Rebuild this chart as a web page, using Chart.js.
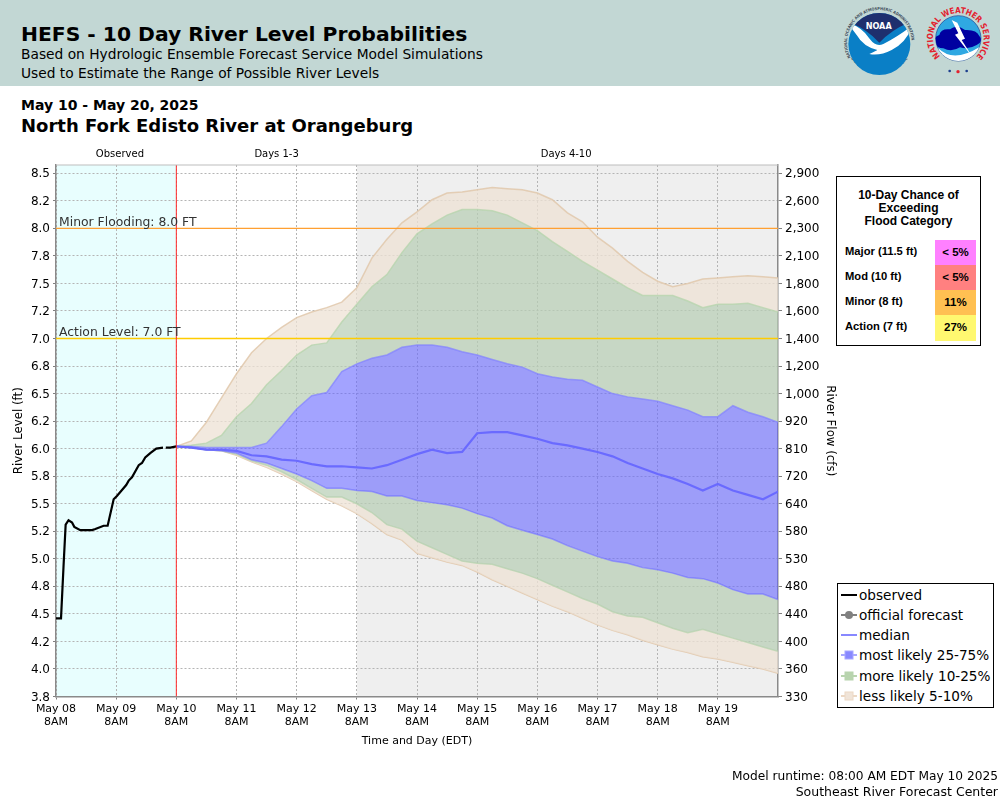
<!DOCTYPE html>
<html>
<head>
<meta charset="utf-8">
<script src="https://cdn.jsdelivr.net/npm/chart.js@4"></script>
<style>
html,body{margin:0;padding:0;background:#fff;width:1000px;height:800px;overflow:hidden;font-family:"DejaVu Sans",sans-serif;color:#000}
#wrap{position:relative;width:1000px;height:800px}
#chart{position:absolute;left:0;top:0}
.t{position:absolute;white-space:nowrap}
#header{position:absolute;left:0;top:0;width:1000px;height:86px;background:#c2d7d4}
#logos{position:absolute;left:820px;top:0}
#flood{position:absolute;left:836px;top:176px;width:143px;height:168px;border:1px solid #000;background:#fff;font-family:"Liberation Sans",Arial,sans-serif;font-weight:bold}
#flood .t{font-size:11.2px}
#flood .h{font-size:12px;left:0;width:143px;text-align:center}
.sw{position:absolute;left:98px;width:41px;text-align:center;line-height:25px;font-size:11.5px}
#legend{position:absolute;left:837px;top:583px;width:155px;height:123px;border:1px solid #000;background:#fff}
.row{position:absolute;left:0;height:20px;width:155px;font-size:13.6px;line-height:20px}
.row span{position:absolute;left:21px;top:0;white-space:nowrap}
.row svg{position:absolute;left:2px;top:2px}
</style>
</head>
<body>
<div id="wrap">
<div id="header"></div>
<div class="t" style="left:21px;top:20px;font-size:20.3px;font-weight:bold;line-height:28px">HEFS - 10 Day River Level Probabilities</div>
<div class="t" style="left:21px;top:45px;font-size:13.77px;line-height:18px">Based on Hydrologic Ensemble Forecast Service Model Simulations</div>
<div class="t" style="left:21px;top:64px;font-size:13.77px;line-height:18px">Used to Estimate the Range of Possible River Levels</div>
<svg id="logos" width="180" height="86" viewBox="0 0 540 258" xmlns="http://www.w3.org/2000/svg">
  <defs>
    <clipPath id="nc"><circle cx="178" cy="132" r="93"/></clipPath>
    <path id="na1" d="M 92 172 A 97 97 0 1 1 264 172" fill="none"/>
    <path id="na2" d="M 92 175 A 108 108 0 0 0 262 178" fill="none"/>
    <path id="wa" d="M 361 169 A 76 76 0 1 1 469 169" fill="none"/>
    <clipPath id="wc"><circle cx="415" cy="115" r="68"/></clipPath>
  </defs>
  <g>
    <text font-family="DejaVu Sans" font-size="12" fill="#44505e" font-weight="bold"><textPath href="#na1" textLength="345" lengthAdjust="spacingAndGlyphs">NATIONAL OCEANIC AND ATMOSPHERIC ADMINISTRATION</textPath></text>
    <text font-family="DejaVu Sans" font-size="12" fill="#44505e" font-weight="bold"><textPath href="#na2" textLength="205" lengthAdjust="spacingAndGlyphs">U.S. DEPARTMENT OF COMMERCE</textPath></text>
    <circle cx="178" cy="132" r="93" fill="#0a7fc6"/>
    <g clip-path="url(#nc)">
      <path d="M 95 30 H 262 V 70 Q 215 90 178 128 Q 140 88 95 70 Z" fill="#1e2f6e"/>
      <path d="M 82 70 Q 125 78 150 118 Q 168 142 190 132 Q 230 112 275 78 Q 262 125 215 150 Q 180 168 148 162 Q 170 152 172 150 Q 130 140 110 105 Q 95 85 82 70 Z" fill="#ffffff"/>
    </g>
    <text x="176" y="88" text-anchor="middle" font-family="DejaVu Sans" font-weight="bold" font-size="27" fill="#fff" textLength="78" lengthAdjust="spacingAndGlyphs">NOAA</text>
  </g>
  <g>
    <text font-family="DejaVu Sans" font-size="25" font-weight="bold" fill="#e3222f"><textPath href="#wa" textLength="358" lengthAdjust="spacingAndGlyphs">NATIONAL WEATHER SERVICE</textPath></text>
    <circle cx="415" cy="115" r="68" fill="#2fa8e2" stroke="#1d3f8e" stroke-width="2"/>
    <g clip-path="url(#wc)">
      <path d="M 355 145 Q 400 190 480 140 L 490 200 H 345 Z" fill="#ffffff"/>
      <path d="M 345 130 Q 338 112 358 105 Q 362 85 390 88 Q 410 72 435 90 Q 470 88 478 108 Q 492 125 470 135 Q 445 150 420 142 Q 395 158 370 145 Q 350 145 345 130 Z" fill="#0000a0"/>
      <path d="M 395 60 L 415 100 L 405 104 L 460 175 L 425 120 L 435 116 L 412 68 Z" fill="#ffffff"/>
    </g>
    <circle cx="389" cy="213" r="4" fill="#1d3f8e"/>
    <circle cx="414" cy="215" r="5" fill="#e3222f"/>
    <circle cx="440" cy="213" r="4" fill="#1d3f8e"/>
  </g>
</svg>
<div class="t" style="left:21px;top:96px;font-size:14px;font-weight:bold;line-height:18px">May 10 - May 20, 2025</div>
<div class="t" style="left:21px;top:114px;font-size:18px;font-weight:bold;line-height:24px">North Fork Edisto River at Orangeburg</div>

<canvas id="chart" width="1000" height="800" style="width:1000px;height:800px"></canvas>

<div id="flood">
  <div class="t h" style="top:11px">10-Day Chance of</div>
  <div class="t h" style="top:24px">Exceeding</div>
  <div class="t h" style="top:37px">Flood Category</div>
  <div id="floodRows"></div>
</div>
<div id="legend"></div>
<div class="t" style="right:2px;top:769px;font-size:12.2px;line-height:15px">Model runtime: 08:00 AM EDT May 10 2025</div>
<div class="t" style="right:2px;top:784px;font-size:12.5px;line-height:15px">Southeast River Forecast Center</div>
</div>
<script>
const xTickHours = [0,24,48,72,96,120,144,168,192,216,240,264];
const xTickDays = ['May 08','May 09','May 10','May 11','May 12','May 13','May 14','May 15','May 16','May 17','May 18','May 19'];
const stageTicks = [8.5,8.25,8,7.75,7.5,7.25,7,6.75,6.5,6.25,6,5.75,5.5,5.25,5,4.75,4.5,4.25,4,3.75];
const stageLabels = ['8.5','8.2','8.0','7.8','7.5','7.2','7.0','6.8','6.5','6.2','6.0','5.8','5.5','5.2','5.0','4.8','4.5','4.2','4.0','3.8'];
const flowLabels = ['2,900','2,600','2,300','2,100','1,800','1,600','1,400','1,200','1,000','920','810','720','640','580','530','480','440','400','360','330'];

const obsHours = [0,2,3,3.85,5,6.4,7.3,9.7,14.4,15.7,19,20.6,23,24.3,28,29,30.3,33,34.3,35.6,37.6,40,42.7,43.2,43.8,45.6,48];
const obsStage = [4.46,4.46,4.93,5.31,5.35,5.33,5.29,5.26,5.26,5.27,5.30,5.30,5.54,5.57,5.67,5.71,5.74,5.85,5.87,5.92,5.96,6.00,6.01,null,6.01,6.01,6.02];

const fcstHours = [48,54,60,66,72,78,84,90,96,102,108,114,120,126,132,138,144,150,156,162,168,174,180,186,192,198,204,210,216,222,228,234,240,246,252,258,264,270,276,282,288];
const p95 = [6.02,6.07,6.24,6.46,6.68,6.87,7.00,7.10,7.19,7.24,7.28,7.33,7.46,7.73,7.90,8.05,8.15,8.26,8.32,8.33,8.35,8.37,8.36,8.35,8.32,8.26,8.14,8.06,7.92,7.82,7.70,7.60,7.52,7.47,7.50,7.54,7.55,7.56,7.57,7.56,7.55];
const p90 = [6.02,6.03,6.05,6.12,6.29,6.41,6.58,6.71,6.85,6.94,6.96,7.15,7.31,7.47,7.58,7.78,7.95,8.04,8.12,8.17,8.17,8.16,8.12,8.05,7.98,7.88,7.79,7.70,7.62,7.54,7.46,7.39,7.39,7.39,7.34,7.28,7.31,7.31,7.32,7.28,7.24];
const p75 = [6.02,6.02,6.01,6.01,6.01,6.01,6.05,6.20,6.36,6.48,6.51,6.70,6.77,6.82,6.85,6.92,6.94,6.94,6.92,6.88,6.85,6.81,6.77,6.74,6.68,6.65,6.63,6.62,6.56,6.50,6.47,6.45,6.43,6.39,6.35,6.29,6.29,6.39,6.33,6.29,6.24];
const median = [6.02,6.01,5.99,5.99,5.98,5.94,5.93,5.90,5.89,5.86,5.84,5.84,5.83,5.82,5.85,5.90,5.95,5.99,5.96,5.97,6.14,6.15,6.15,6.12,6.09,6.05,6.03,6.00,5.97,5.93,5.87,5.82,5.77,5.73,5.68,5.62,5.68,5.62,5.58,5.54,5.61];
const p25 = [6.02,6.01,5.99,5.98,5.96,5.90,5.87,5.82,5.77,5.71,5.64,5.64,5.62,5.61,5.57,5.57,5.53,5.51,5.49,5.46,5.41,5.37,5.30,5.26,5.22,5.18,5.12,5.07,5.02,4.98,4.96,4.92,4.90,4.87,4.83,4.82,4.78,4.72,4.68,4.68,4.63];
const p10 = [6.02,6.01,5.99,5.98,5.95,5.89,5.85,5.79,5.72,5.64,5.56,5.56,5.50,5.42,5.31,5.27,5.16,5.10,5.04,4.98,4.96,4.95,4.91,4.87,4.82,4.76,4.70,4.64,4.59,4.52,4.48,4.47,4.42,4.37,4.33,4.36,4.32,4.28,4.24,4.20,4.16];
const p05 = [6.02,6.01,5.99,5.98,5.94,5.88,5.83,5.77,5.70,5.62,5.54,5.48,5.41,5.32,5.22,5.17,5.05,5.01,4.97,4.94,4.88,4.81,4.75,4.69,4.63,4.57,4.52,4.46,4.40,4.35,4.31,4.26,4.22,4.18,4.15,4.11,4.09,4.06,4.03,4.00,3.96];

const minorStage = 8.0, actionStage = 7.0, runHour = 48, days4Hour = 120, endHour = 288;
const floodNames = ['Major (11.5 ft)','Mod (10 ft)','Minor (8 ft)','Action (7 ft)'];
const floodChance = ['< 5%','< 5%','11%','27%'];
const floodColors = ['#ff80ff','#ff8080','#ffc052','#fff870'];
const legendNames = ['observed','official forecast','median','most likely 25-75%','more likely 10-25%','less likely 5-10%'];

const rows = document.getElementById('floodRows');
const swTops = [63,88,113,138], swH = [25,25,25,26];
floodNames.forEach((n,i)=>{
  rows.insertAdjacentHTML('beforeend',
    `<div class="t" style="left:8px;top:${swTops[i]+4}px;line-height:14px">${n}</div>`+
    `<div class="sw" style="top:${swTops[i]}px;height:${swH[i]}px;background:${floodColors[i]}">${floodChance[i].replace('<','&lt;')}</div>`);
});
const legendMarks = [
  {c:'#000',w:2,m:''},
  {c:'#808080',w:2,m:'dot',f:'#808080'},
  {c:'#8888ff',w:2,m:''},
  {c:'#a8a8ff',w:2,m:'sq',f:'#8888ff'},
  {c:'#b8d4ae',w:2,m:'sq',f:'#b8d4ae'},
  {c:'#ecd8c4',w:2,m:'sq',f:'#f0e4d8'}
];
const legendEl = document.getElementById('legend');
const rowTops = [1,21,41,61,82,102];
legendNames.forEach((n,i)=>{
  const k = legendMarks[i];
  let mk = '';
  if(k.m==='dot') mk = `<circle cx="9" cy="8" r="4" fill="${k.f}"/>`;
  if(k.m==='sq') mk = `<rect x="5" y="4" width="8" height="8" fill="${k.f}" stroke="${k.c}"/>`;
  legendEl.insertAdjacentHTML('beforeend',
    `<div class="row" style="top:${rowTops[i]}px"><svg width="18" height="16"><line x1="1" y1="8" x2="17" y2="8" stroke="${k.c}" stroke-width="${k.w}"/>${mk}</svg><span>${n}</span></div>`);
});

function pts(xs,ys){ return xs.map((x,i)=>({x:x,y:ys[i]})); }
const base = {pointRadius:0,tension:0,spanGaps:false,xAxisID:'x',yAxisID:'y'};
const beige='rgba(238,226,213,0.76)', green='rgba(183,205,179,0.7)', blue='rgba(102,102,255,0.6)';
const datasets = [
  {...base,label:'p95',data:pts(fcstHours,p95),borderColor:'rgba(225,200,172,0.85)',borderWidth:1.5,backgroundColor:beige,fill:{target:1},order:6},
  {...base,label:'p90',data:pts(fcstHours,p90),borderColor:'rgba(184,212,174,0.8)',borderWidth:1.5,backgroundColor:green,fill:{target:2},order:5},
  {...base,label:'p75',data:pts(fcstHours,p75),borderColor:'rgba(128,128,255,0.7)',borderWidth:1.5,backgroundColor:blue,fill:{target:3},order:4},
  {...base,label:'p25',data:pts(fcstHours,p25),borderColor:'rgba(128,128,255,0.7)',borderWidth:1.5,backgroundColor:green,fill:{target:4},order:4.5},
  {...base,label:'p10',data:pts(fcstHours,p10),borderColor:'rgba(184,212,174,0.8)',borderWidth:1.5,backgroundColor:beige,fill:{target:5},order:5.5},
  {...base,label:'p05',data:pts(fcstHours,p05),borderColor:'rgba(225,200,172,0.9)',borderWidth:1.5,fill:false,order:6.5},
  {...base,label:'median',data:pts(fcstHours,median),borderColor:'#6a6aff',borderWidth:2.2,fill:false,order:2},
  {...base,label:'observed',data:pts(obsHours,obsStage),borderColor:'#000',borderWidth:2.2,fill:false,order:1},
  {...base,label:'minor',data:pts([0,endHour],[minorStage,minorStage]),borderColor:'#ffa032',borderWidth:1.3,fill:false,order:0.5},
  {...base,label:'action',data:pts([0,endHour],[actionStage,actionStage]),borderColor:'#ffcc00',borderWidth:1.3,fill:false,order:0.5},
  {...base,label:'runtime',data:pts([runHour,runHour],[3.75,8.575]),borderColor:'#ff2a2a',borderWidth:1,fill:false,order:0.4}
];

const backdrop = {
  id:'backdrop',
  beforeDraw(c){
    const g=c.ctx,a=c.chartArea,x=c.scales.x;
    g.save();
    g.fillStyle='#e8fefe';
    g.fillRect(a.left,a.top,x.getPixelForValue(runHour)-a.left,a.height);
    g.fillStyle='#efefef';
    const d=x.getPixelForValue(days4Hour);
    g.fillRect(d,a.top,a.right-d,a.height);
    g.restore();
  },
  afterDraw(c){
    const g=c.ctx,a=c.chartArea,x=c.scales.x,y=c.scales.y;
    g.save();
    g.strokeStyle='#bdbdbd';g.lineWidth=1;
    g.beginPath();g.moveTo(a.left,a.top);g.lineTo(a.right,a.top);g.stroke();
    g.fillStyle='#333';g.font='12.4px "DejaVu Sans"';g.textAlign='left';g.textBaseline='alphabetic';
    g.fillText('Minor Flooding: 8.0 FT',a.left+3,y.getPixelForValue(minorStage)-2);
    g.fillText('Action Level: 7.0 FT',a.left+3,y.getPixelForValue(actionStage)-2);
    g.fillStyle='#000';g.font='10px "DejaVu Sans"';g.textAlign='center';
    g.fillText('Observed',x.getPixelForValue(25.5),157);
    g.fillText('Days 1-3',x.getPixelForValue(88),157);
    g.fillText('Days 4-10',x.getPixelForValue(203.5),157);
    g.restore();
  }
};

new Chart(document.getElementById('chart').getContext('2d'),{
  type:'line',
  data:{datasets},
  plugins:[backdrop],
  options:{
    responsive:false,animation:false,events:[],devicePixelRatio:1,
    layout:{padding:{left:0,right:163,top:165,bottom:50}},
    plugins:{legend:{display:false},title:{display:false},tooltip:{enabled:false},filler:{propagate:false}},
    scales:{
      x:{type:'linear',min:0,max:endHour,
        afterBuildTicks(s){s.ticks=xTickHours.map(v=>({value:v}));},
        afterFit(s){s.height=53.5;},
        grid:{color:'#b4b4b4',tickColor:'#808080',tickLength:3},
        border:{dash:[2,2],color:'#8a8a8a',width:1.5},
        ticks:{autoSkip:false,maxRotation:0,minRotation:0,padding:3,color:'#000',font:{family:'DejaVu Sans',size:11,lineHeight:1.2},
          callback:(v,i)=>[xTickDays[i],'8AM']},
        title:{display:true,text:'Time and Day (EDT)',color:'#000',font:{family:'DejaVu Sans',size:11},padding:{top:0,bottom:2}}
      },
      y:{type:'linear',position:'left',min:3.75,max:8.575,
        afterBuildTicks(s){s.ticks=stageTicks.map(v=>({value:v}));},
        afterFit(s){s.width=56;},
        grid:{color:'#b4b4b4',tickColor:'#808080',tickLength:3},
        border:{dash:[2,2],color:'#8a8a8a',width:1.5},
        ticks:{autoSkip:false,padding:3,labelOffset:1,color:'#000',font:{family:'DejaVu Sans',size:12},
          callback:(v,i)=>stageLabels[i]},
        title:{display:true,text:'River Level (ft)',color:'#000',font:{family:'DejaVu Sans',size:11.8},padding:{top:12,bottom:0}}
      },
      y1:{type:'linear',position:'right',min:3.75,max:8.575,
        afterBuildTicks(s){s.ticks=stageTicks.map(v=>({value:v}));},
        afterFit(s){s.width=59;},
        grid:{drawOnChartArea:false,tickColor:'#808080',tickLength:4},
        border:{color:'#8a8a8a',width:1.5},
        ticks:{autoSkip:false,padding:3,labelOffset:1,color:'#000',font:{family:'DejaVu Sans',size:12},
          callback:(v,i)=>flowLabels[i]},
        title:{display:true,text:'River Flow (cfs)',color:'#000',font:{family:'DejaVu Sans',size:11.8},padding:{top:0,bottom:0}}
      }
    }
  }
});
</script>
</body>
</html>
